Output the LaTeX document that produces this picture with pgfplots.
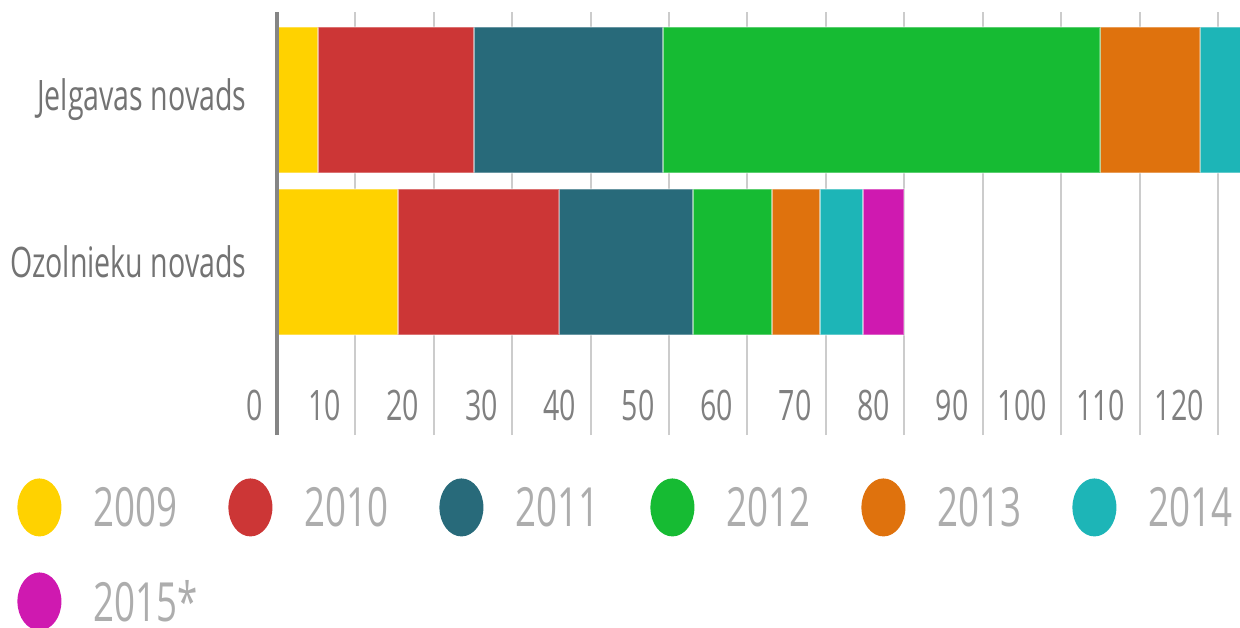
\documentclass[border=0pt]{standalone}
\usepackage{fontspec}
\setmainfont{Open Sans}[FakeStretch=0.68]
\usepackage{pgfplots}
\pgfplotsset{compat=1.18}

\definecolor{c2009}{HTML}{FFD200}
\definecolor{c2010}{HTML}{CC3636}
\definecolor{c2011}{HTML}{286A7A}
\definecolor{c2012}{HTML}{16BB33}
\definecolor{c2013}{HTML}{DF720D}
\definecolor{c2014}{HTML}{1DB5B7}
\definecolor{c2015}{HTML}{CF19B0}

\pgfplotsset{
  seg/.style={fill=#1, draw=white, draw opacity=0.3, line width=1pt,
    legend image code/.code={\fill[##1, draw=none] (11pt,0.5pt) ellipse [x radius=11pt, y radius=14.5pt];}},
}

\begin{document}
\begin{tikzpicture}
\useasboundingbox (0,0) rectangle (620pt,313.5pt);
\begin{axis}[
  name=ax, at={(138.4pt,96pt)}, anchor=south west,
  scale only axis, width=481.6pt, height=211.5pt,
  xbar stacked, bar width=0.9,
  xmin=0, xmax=122.8, ymin=-1.068, ymax=1.543,
  xtick={0,10,...,120}, ytick={0,1},
  yticklabels={Ozolnieku novads, Jelgavas novads},
  major tick length=0pt,
  axis line style={draw=none},
  xmajorgrids, grid style={draw=black!20, line width=1pt},
  /pgf/number format/assume math mode=true,
  xticklabel style={font=\fontsize{21}{24}\selectfont, text=black!50,
    anchor=base east, inner sep=0pt, xshift=-7pt, yshift=7.5pt},
  yticklabel style={font=\fontsize{21}{24}\selectfont, text=black!55,
    anchor=east, inner sep=0pt, xshift=-15pt},
  legend columns=6,
  legend style={at={(-0.2697,-0.1017)}, anchor=north west, draw=none, fill=none,
    inner sep=0pt, row sep=18pt,
    font=\fontsize{27}{30}\selectfont, text=black!32,
    nodes={inner sep=0pt},
    /tikz/every odd column/.style={column sep=16pt},
    /tikz/every even column/.style={column sep=0pt}},
  legend cell align=left,
]
\addplot[seg=c2009] coordinates {(5.2,1) (15.4,0)};
\addlegendentry{\makebox[67.5pt][l]{2009}}
\addplot[seg=c2010] coordinates {(19.9,1) (20.6,0)};
\addlegendentry{\makebox[67.5pt][l]{2010}}
\addplot[seg=c2011] coordinates {(24.1,1) (17.0,0)};
\addlegendentry{\makebox[67.5pt][l]{2011}}
\addplot[seg=c2012] coordinates {(55.8,1) (10.1,0)};
\addlegendentry{\makebox[67.5pt][l]{2012}}
\addplot[seg=c2013] coordinates {(12.7,1) (6.1,0)};
\addlegendentry{\makebox[67.5pt][l]{2013}}
\addplot[seg=c2014] coordinates {(6.0,1) (5.5,0)};
\addlegendentry{\makebox[67.5pt][l]{2014}}
\addplot[seg=c2015] coordinates {(0,1) (5.3,0)};
\addlegendentry{\makebox[67.5pt][l]{2015*}}
\end{axis}
\draw[black!48, line width=1.8pt] (ax.south west) -- (ax.north west);
\end{tikzpicture}
\end{document}
